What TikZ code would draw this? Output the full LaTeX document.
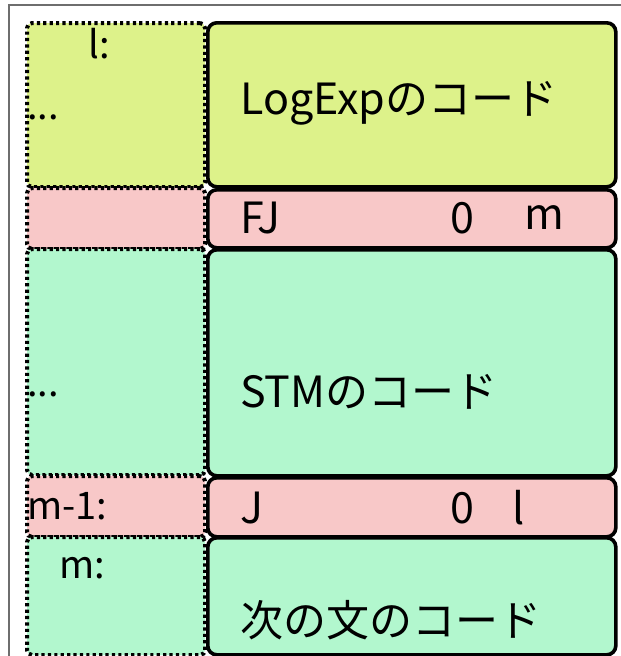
\documentclass[tikz,border=0pt]{standalone}
\usepackage{fontspec}
\setmainfont{Noto Sans CJK JP}
\definecolor{cyel}{RGB}{221,242,138}
\definecolor{cpink}{RGB}{248,200,200}
\definecolor{cgreen}{RGB}{178,247,206}
\definecolor{cframe}{RGB}{110,110,110}
\begin{document}
\begin{tikzpicture}[x=1pt,y=-1pt,
  solidbox/.style={draw=black,line width=3.6pt,rounded corners=9pt,inner sep=0pt,anchor=north west},
  dotbox/.style={draw=black,line width=4pt,dash pattern=on 3.2pt off 3.2pt,rounded corners=5pt,inner sep=0pt,anchor=north west},
  txt/.style={font=\fontsize{43}{46}\selectfont,inner sep=0pt,anchor=west,text=black},
  lbl/.style={font=\fontsize{38}{42}\selectfont,inner sep=0pt,text=black}]
\useasboundingbox (0,0) rectangle (621,656);
\fill[white] (0,0) rectangle (621,656);
\draw[cframe,line width=1.5pt] (9,656) -- (9,5) -- (621,5);
% left dotted column
\node[dotbox,fill=cyel,minimum width=178pt,minimum height=164pt] (l1) at (25,21) {};
\node[dotbox,fill=cpink,minimum width=178pt,minimum height=61pt] (l2) at (25,186) {};
\node[dotbox,fill=cgreen,minimum width=178pt,minimum height=226pt] (l3) at (25,247) {};
\node[dotbox,fill=cpink,minimum width=178pt,minimum height=61pt] (l4) at (25,474) {};
\node[dotbox,fill=cgreen,minimum width=178pt,minimum height=118pt] (l5) at (25,535) {};
% right solid column
\node[solidbox,fill=cyel,minimum width=408pt,minimum height=164pt] (r1) at (206,21) {};
\node[solidbox,fill=cpink,minimum width=408pt,minimum height=58pt] (r2) at (206,188) {};
\node[solidbox,fill=cgreen,minimum width=408pt,minimum height=226pt] (r3) at (206,248) {};
\node[solidbox,fill=cpink,minimum width=408pt,minimum height=59pt] (r4) at (206,476) {};
\node[solidbox,fill=cgreen,minimum width=408pt,minimum height=117pt] (r5) at (206,536) {};
% left labels
\node[lbl] (t1) at (99,44) {l:};
\node[lbl,anchor=west] (t2) at (27,117) {...};
\node[lbl,anchor=west] (t3) at (27,394) {...};
\node[lbl,anchor=west] (t4) at (27,506) {m-1:};
\node[lbl] (t5) at (82,568) {m:};
% right texts
\node[txt] (s1) at (240,103) {LogExpのコード};
\node[txt] (s2) at (240,218) {FJ};
\node[txt] (s2a) at (450,218) {0};
\node[txt] (s2b) at (524,218) {m};
\node[txt] (s3) at (240,392) {STMのコード};
\node[txt] (s4) at (240,508) {J};
\node[txt] (s4a) at (450,508) {0};
\node[txt] (s4b) at (512,508) {l};
\node[txt] (s5) at (240,620) {次の文のコード};
\end{tikzpicture}
\end{document}
